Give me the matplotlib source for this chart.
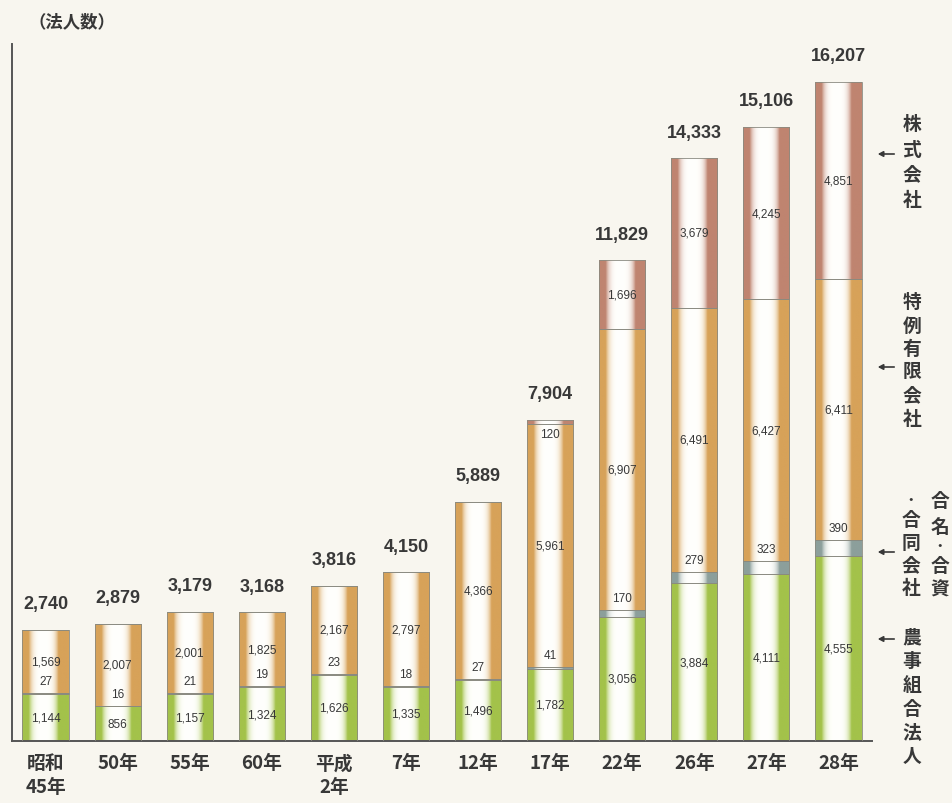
import numpy as np
import matplotlib
matplotlib.use("Agg")
import matplotlib.pyplot as plt
from matplotlib.colors import to_rgb

plt.rcParams['font.family'] = ['Noto Sans CJK JP', 'DejaVu Sans']

# ---- data ----
years = ["昭和\n45年", "50年", "55年", "60年", "平成\n2年", "7年", "12年", "17年",
         "22年", "26年", "27年", "28年"]
noji = [1144, 856, 1157, 1324, 1626, 1335, 1496, 1782, 3056, 3884, 4111, 4555]      # 農事組合法人
gomei = [27, 16, 21, 19, 23, 18, 27, 41, 170, 279, 323, 390]                        # 合名・合資・合同会社
yugen = [1569, 2007, 2001, 1825, 2167, 2797, 4366, 5961, 6907, 6491, 6427, 6411]     # 特例有限会社
kabu = [0, 0, 0, 0, 0, 0, 0, 120, 1696, 3679, 4245, 4851]                           # 株式会社
totals = [2740, 2879, 3179, 3168, 3816, 4150, 5889, 7904, 11829, 14333, 15106, 16207]
series_names = ["農事組合法人", "合名・合資・合同会社", "特例有限会社", "株式会社"]

# ---- style ----
W, H = 952, 804
BG = "#f8f6ef"
colors = ["#a3c24a", "#8c9f9b", "#d7a259", "#bf8470"]
TXT = "#383838"

fig = plt.figure(figsize=(W / 100, H / 100), dpi=100, facecolor=BG)
base_px, top_px, left_px, right_px = 742, 45, 12, 872
ax = fig.add_axes([left_px / W, (H - base_px) / H, (right_px - left_px) / W, (base_px - top_px) / H])
ax.set_facecolor(BG)

px_per_unit = (base_px - 83) / 16207.0
ymax = (base_px - top_px) / px_per_unit
pitch = 72.09
xl = -(45.5 - left_px) / pitch
xr = (right_px - 45.5) / pitch
bw = 0.64
u = 1.0 / px_per_unit  # data units per pixel

t = np.linspace(0, 1, 160)
white = np.clip(1 - (np.abs(t - 0.46) / 0.32) ** 4, 0, 1)


def grad(c):
    rgb = np.array(to_rgb(c))
    img = rgb[None, :] * (1 - white[:, None]) + np.array([1.0, 1.0, 0.99])[None, :] * white[:, None]
    return img[None, :, :]


x = np.arange(len(years))
stack = [noji, gomei, yugen, kabu]
bottoms = np.zeros(len(years))
for si, (vals, col) in enumerate(zip(stack, colors)):
    vals = np.array(vals, dtype=float)
    bars = ax.bar(x, vals, bw, bottom=bottoms, facecolor="none",
                  edgecolor="#8a8a80", linewidth=0.6, zorder=3)
    for xi, b, v, patch in zip(x, bottoms, vals, bars.patches):
        if v <= 0:
            continue
        im = ax.imshow(grad(col), extent=(xi - bw / 2, xi + bw / 2, b, b + v),
                       aspect="auto", zorder=2, interpolation="bilinear")
        im.set_clip_path(patch)
    bottoms = bottoms + vals

# value labels
for i in range(len(years)):
    g, s, o, k = noji[i], gomei[i], yugen[i], kabu[i]
    kw = dict(ha="center", va="center", fontsize=8.5, color=TXT,
              family=["Liberation Sans", "DejaVu Sans"], zorder=5)
    ax.text(x[i], g / 2, f"{g:,}", **kw)
    ax.text(x[i], g + s + 12 * u, f"{s:,}", **kw)
    ax.text(x[i], g + s + o / 2, f"{o:,}", **kw)
    if k > 0:
        if k * px_per_unit < 20:
            ax.text(x[i], g + s + o + k - 14 * u, f"{k:,}", **kw)
        else:
            ax.text(x[i], g + s + o + k / 2, f"{k:,}", **kw)
    ax.text(x[i], totals[i] + 26 * u, f"{totals[i]:,}", ha="center", va="center",
            fontsize=13, color=TXT, fontweight="bold",
            family=["Liberation Sans", "DejaVu Sans"], zorder=5)

ax.set_xlim(xl, xr)
ax.set_ylim(0, ymax)
for sp in ["top", "right"]:
    ax.spines[sp].set_visible(False)
ax.spines["left"].set_color("#555555")
ax.spines["bottom"].set_color("#555555")
ax.spines["left"].set_linewidth(1.4)
ax.spines["bottom"].set_linewidth(1.4)
ax.set_yticks([])
ax.set_xticks(x)
ax.set_xticklabels(years, fontsize=13.5, color=TXT, linespacing=1.3, fontweight="bold")
ax.tick_params(axis="x", length=0, pad=9)

# title
fig.text(28 / W, 1 - 22 / H, "（法人数）", ha="left", va="center", fontsize=12.5,
         color=TXT, fontweight="bold")


# right side vertical labels
def vtext(xc, ys, chars):
    for yy, ch in zip(ys, chars):
        fs = 9 if ch == "・" else 13.5
        fig.text(xc / W, 1 - yy / H, ch, ha="center", va="center", fontsize=fs,
                 color=TXT, fontweight="bold")


def arrow(y):
    fig.add_artist(matplotlib.patches.FancyArrowPatch(
        (897 / W, 1 - y / H), (875 / W, 1 - y / H), transform=fig.transFigure,
        arrowstyle="-|>,head_length=3,head_width=1.6", color=TXT, lw=1.2))


vtext(912, [125, 150, 175, 200], "株式会社")
arrow(155)
vtext(912, [302, 326, 349, 372, 396, 420], "特例有限会社")
arrow(368)
vtext(940, [502, 527, 547, 567, 590], "合名・合資")
vtext(911, [501, 520, 543, 566, 589], "・合同会社")
arrow(553)
vtext(912, [638, 662, 686, 710, 733, 757], "農事組合法人")
arrow(640)

fig.savefig("out.png", dpi=100, facecolor=BG)
